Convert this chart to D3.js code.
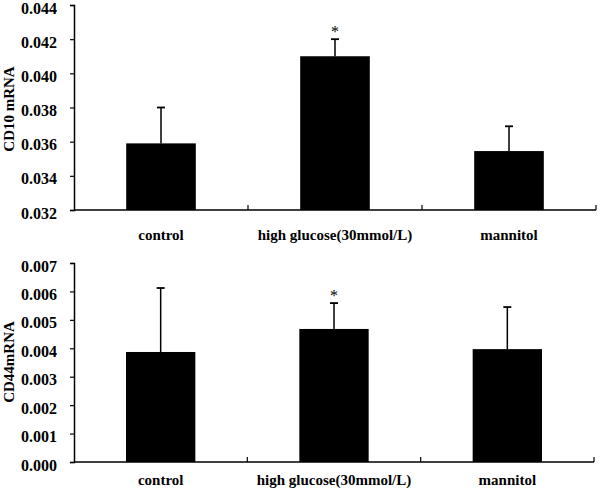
<!DOCTYPE html>
<html><head><meta charset="utf-8">
<script src="https://cdn.jsdelivr.net/npm/d3@7"></script>
<style>body{margin:0;background:#fff}svg{display:block}text{font-family:"Liberation Serif","Times New Roman",serif;font-weight:bold;fill:#000}</style>
</head><body><svg id="c" width="600" height="497"></svg>
<script>
const categories = ["control", "high glucose(30mmol/L)", "mannitol"];
const cd10Values = [0.0359, 0.0410, 0.03545];
const cd10Errors = [0.0021, 0.0010, 0.00145];
const cd10Ticks = [0.032, 0.034, 0.036, 0.038, 0.040, 0.042, 0.044];
const cd44Values = [0.00387, 0.00468, 0.00397];
const cd44Errors = [0.00225, 0.00091, 0.00148];
const cd44Ticks = [0, 0.001, 0.002, 0.003, 0.004, 0.005, 0.006, 0.007];
const stars = ["", "*", ""];

const svg = d3.select("#c");

function panel(o) {
  const g = svg.append("g");
  const x = d3.scaleBand().domain(categories).range([o.x0, o.x1]).paddingInner(0.6).paddingOuter(0.3);
  const y = d3.scaleLinear().domain(o.domain).range([o.yb, o.yt]);
  g.selectAll("rect").data(o.values).join("rect")
    .attr("x", (d, i) => x(categories[i]))
    .attr("width", x.bandwidth())
    .attr("y", d => y(d))
    .attr("height", d => y(o.domain[0]) - y(d))
    .attr("fill", "#000");
  o.values.forEach((v, i) => {
    const cx = x(categories[i]) + x.bandwidth() / 2;
    const top = y(v + o.errors[i]);
    g.append("line").attr("x1", cx).attr("x2", cx).attr("y1", y(v)).attr("y2", top).attr("stroke", "#000").attr("stroke-width", 1.5);
    g.append("line").attr("x1", cx - 4).attr("x2", cx + 4).attr("y1", top).attr("y2", top).attr("stroke", "#000").attr("stroke-width", 1.8);
    if (stars[i]) g.append("text").attr("x", cx).attr("y", top - 2).attr("text-anchor", "middle")
      .attr("font-size", 16).style("font-weight", "normal").style("fill", "#000").text(stars[i]);
  });
  const ya = d3.axisLeft(y).tickValues(o.ticks).tickFormat(d3.format(".3f")).tickSizeOuter(0).tickSize(4).tickPadding(13);
  const yg = g.append("g").attr("transform", `translate(${o.x0},0)`).call(ya);
  yg.select(".domain").attr("stroke-width", 1.5);
  yg.selectAll(".tick line").attr("stroke-width", 1.2);
  yg.selectAll("text").attr("font-size", 16).attr("font-family", null).attr("dy", "0.5em");
  const xa = d3.axisBottom(x).tickSize(0).tickPadding(o.labPad);
  const xg = g.append("g").attr("transform", `translate(0,${o.yb})`).call(xa);
  xg.select(".domain").attr("d", `M${o.x0},0H${o.x1}`).attr("stroke-width", 1.5);
  xg.selectAll("text").attr("font-size", 15).attr("font-family", null);
  const step = (o.x1 - o.x0) / categories.length;
  for (let k = 1; k <= categories.length; k++) {
    g.append("line").attr("x1", o.x0 + k * step).attr("x2", o.x0 + k * step).attr("y1", o.yb).attr("y2", o.yb - 5).attr("stroke", "#000").attr("stroke-width", 1.2);
  }
  g.append("text").attr("transform", `translate(${o.titleX},${o.titleY}) rotate(-90)`).attr("text-anchor", "middle").attr("font-size", 15).text(o.title);
}

panel({x0: 74, x1: 596, yt: 5, yb: 210, domain: [0.032, 0.044], values: cd10Values, errors: cd10Errors, ticks: cd10Ticks, labPad: 19, title: "CD10 mRNA", titleX: 14, titleY: 109});
panel({x0: 74, x1: 594, yt: 263, yb: 462, domain: [0, 0.007], values: cd44Values, errors: cd44Errors, ticks: cd44Ticks, labPad: 12, title: "CD44mRNA", titleX: 14, titleY: 362});
</script></body></html>
